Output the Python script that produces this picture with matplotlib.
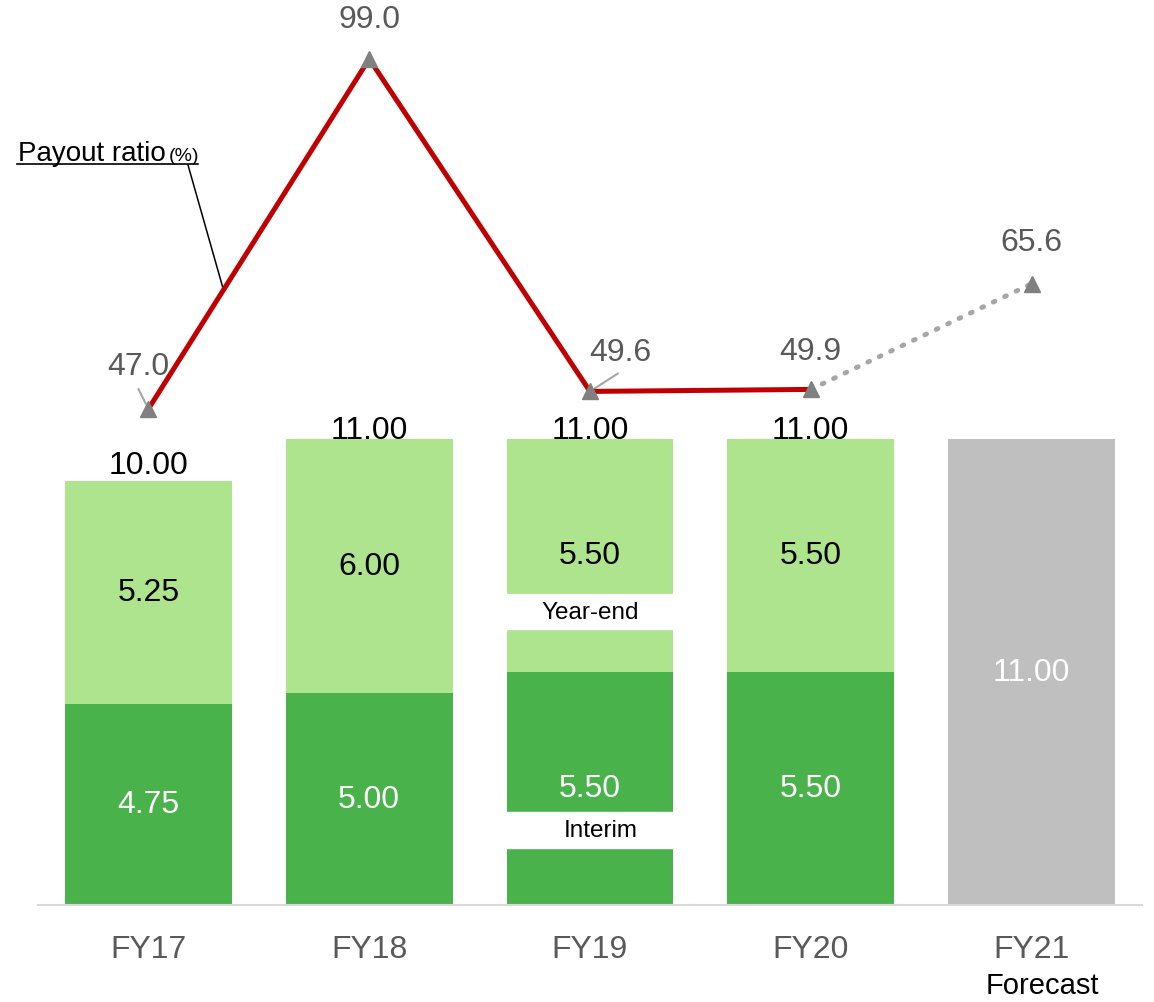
import numpy as np
import matplotlib
matplotlib.use("Agg")
import matplotlib.pyplot as plt
from matplotlib.patches import Rectangle

plt.rcParams['font.family'] = ['Liberation Sans', 'DejaVu Sans']

# data
years = ['FY17', 'FY18', 'FY19', 'FY20']
interim = [4.75, 5.00, 5.50, 5.50]
year_end = [5.25, 6.00, 5.50, 5.50]
totals = [10.00, 11.00, 11.00, 11.00]
forecast_label = 'FY21'
forecast_total = 11.00
payout = [47.0, 99.0, 49.6, 49.9]
payout_forecast = 65.6

dark_green = '#4AB24A'
light_green = '#AEE48D'
grey_bar = '#BFBFBF'
red = '#C00000'
txt_grey = '#595959'
fs = 23

fig = plt.figure(figsize=(11.54, 10.03), dpi=100)
ax = fig.add_axes([38/1154, 97/1003, 1104/1154, 906/1003])
ax2 = ax.twinx()

x = np.arange(len(years))
xf = len(years)
w = 0.755

# stacked bars
ax.bar(x, interim, w, color=dark_green, zorder=2)
ax.bar(x, year_end, w, bottom=interim, color=light_green, zorder=2)
ax.bar(xf, forecast_total, w, color=grey_bar, zorder=2)

for i in range(len(years)):
    ax.text(x[i], interim[i]/2, '%.2f' % interim[i], ha='center', va='center',
            color='white', fontsize=fs, zorder=5)
    ax.text(x[i], interim[i] + year_end[i]/2, '%.2f' % year_end[i], ha='center',
            va='center', color='black', fontsize=fs, zorder=5)
    off = 16 if i == 0 else 9
    ax.annotate('%.2f' % totals[i], (x[i], totals[i]), xytext=(0, off),
                textcoords='offset pixels', ha='center', va='center',
                fontsize=fs, color='black', zorder=5)
ax.text(xf, forecast_total/2, '%.2f' % forecast_total, ha='center', va='center',
        color='white', fontsize=fs, zorder=5)

# white callout boxes on FY19
i19 = 2
ax.add_patch(Rectangle((x[i19]-w/2-0.01, 6.51), w+0.02, 0.82, color='white', zorder=3))
ax.text(x[i19], 6.92, 'Year-end', ha='center', va='center', fontsize=17.5, zorder=4)
ax.add_patch(Rectangle((x[i19]-w/2-0.01, 1.34), w+0.02, 0.85, color='white', zorder=3))
ax.text(x[i19]+0.05, 1.76, 'Interim', ha='center', va='center', fontsize=17.5, zorder=4)

ax.set_xlim(-0.5, 4.5)
ax.set_ylim(0, 21.37)
ax.set_xticks(list(x) + [xf])
ax.set_xticklabels(years + [forecast_label], fontsize=fs, color=txt_grey)
ax.tick_params(axis='x', length=0, pad=21)
ax.tick_params(axis='y', left=False, labelleft=False)
for s in ['top', 'left', 'right']:
    ax.spines[s].set_visible(False)
ax.spines['bottom'].set_color('#D9D9D9')
ax.spines['bottom'].set_linewidth(1.5)
# forecast note under FY21
ax.text(xf + 0.05, -1.55, 'Forecast', ha='center', va='top', fontsize=21, color='black')

# payout ratio line
ax2.plot(x, payout, color=red, lw=3.6, zorder=4, solid_capstyle='butt')
ax2.plot([x[-1], xf], [payout[-1], payout_forecast], color='#A6A6A6', lw=3.5,
         linestyle=(0, (0.4, 2.2)), dash_capstyle='round', zorder=4)
ax2.plot(list(x) + [xf], payout + [payout_forecast], linestyle='none', marker='^',
         markersize=12, color='#808080', zorder=5)

offsets = [(-10, 43), (0, 40), (30, 39), (0, 38)]
for i in range(len(years)):
    ax2.annotate('%.1f' % payout[i], (x[i], payout[i]), xytext=offsets[i],
                 textcoords='offset pixels', ha='center', va='center',
                 fontsize=fs, color=txt_grey)
ax2.annotate('%.1f' % payout_forecast, (xf, payout_forecast), xytext=(0, 42),
             textcoords='offset pixels', ha='center', va='center',
             fontsize=fs, color=txt_grey)

# small leader lines to the labels
ax2.annotate('', (x[0], payout[0]), xytext=(-10, 20), textcoords='offset pixels',
             arrowprops=dict(arrowstyle='-', color='#A6A6A6', lw=1.5, shrinkA=0, shrinkB=4))
ax2.annotate('', (x[2], payout[2]), xytext=(28, 18), textcoords='offset pixels',
             arrowprops=dict(arrowstyle='-', color='#A6A6A6', lw=1.5, shrinkA=0, shrinkB=4))

ax2.set_ylim(-26.7, 107.9)
ax2.axis('off')

# payout ratio legend text with leader line
fig.text(18/1154, 1-161/1003, 'Payout ratio', fontsize=20, ha='left', va='baseline')
fig.text(169/1154, 1-161/1003, '(%)', fontsize=14, ha='left', va='baseline')
fig.add_artist(plt.Line2D([17/1154, 198/1154], [1-165/1003, 1-165/1003],
                          color='black', lw=1.2))
t = 0.34
ax2.annotate('', (x[0] + t, payout[0] + t*(payout[1]-payout[0])),
             xytext=(188, 1003-166), textcoords='figure pixels',
             arrowprops=dict(arrowstyle='-', color='black', lw=1.1, shrinkA=0, shrinkB=0))

fig.savefig('out.png', dpi=100)
